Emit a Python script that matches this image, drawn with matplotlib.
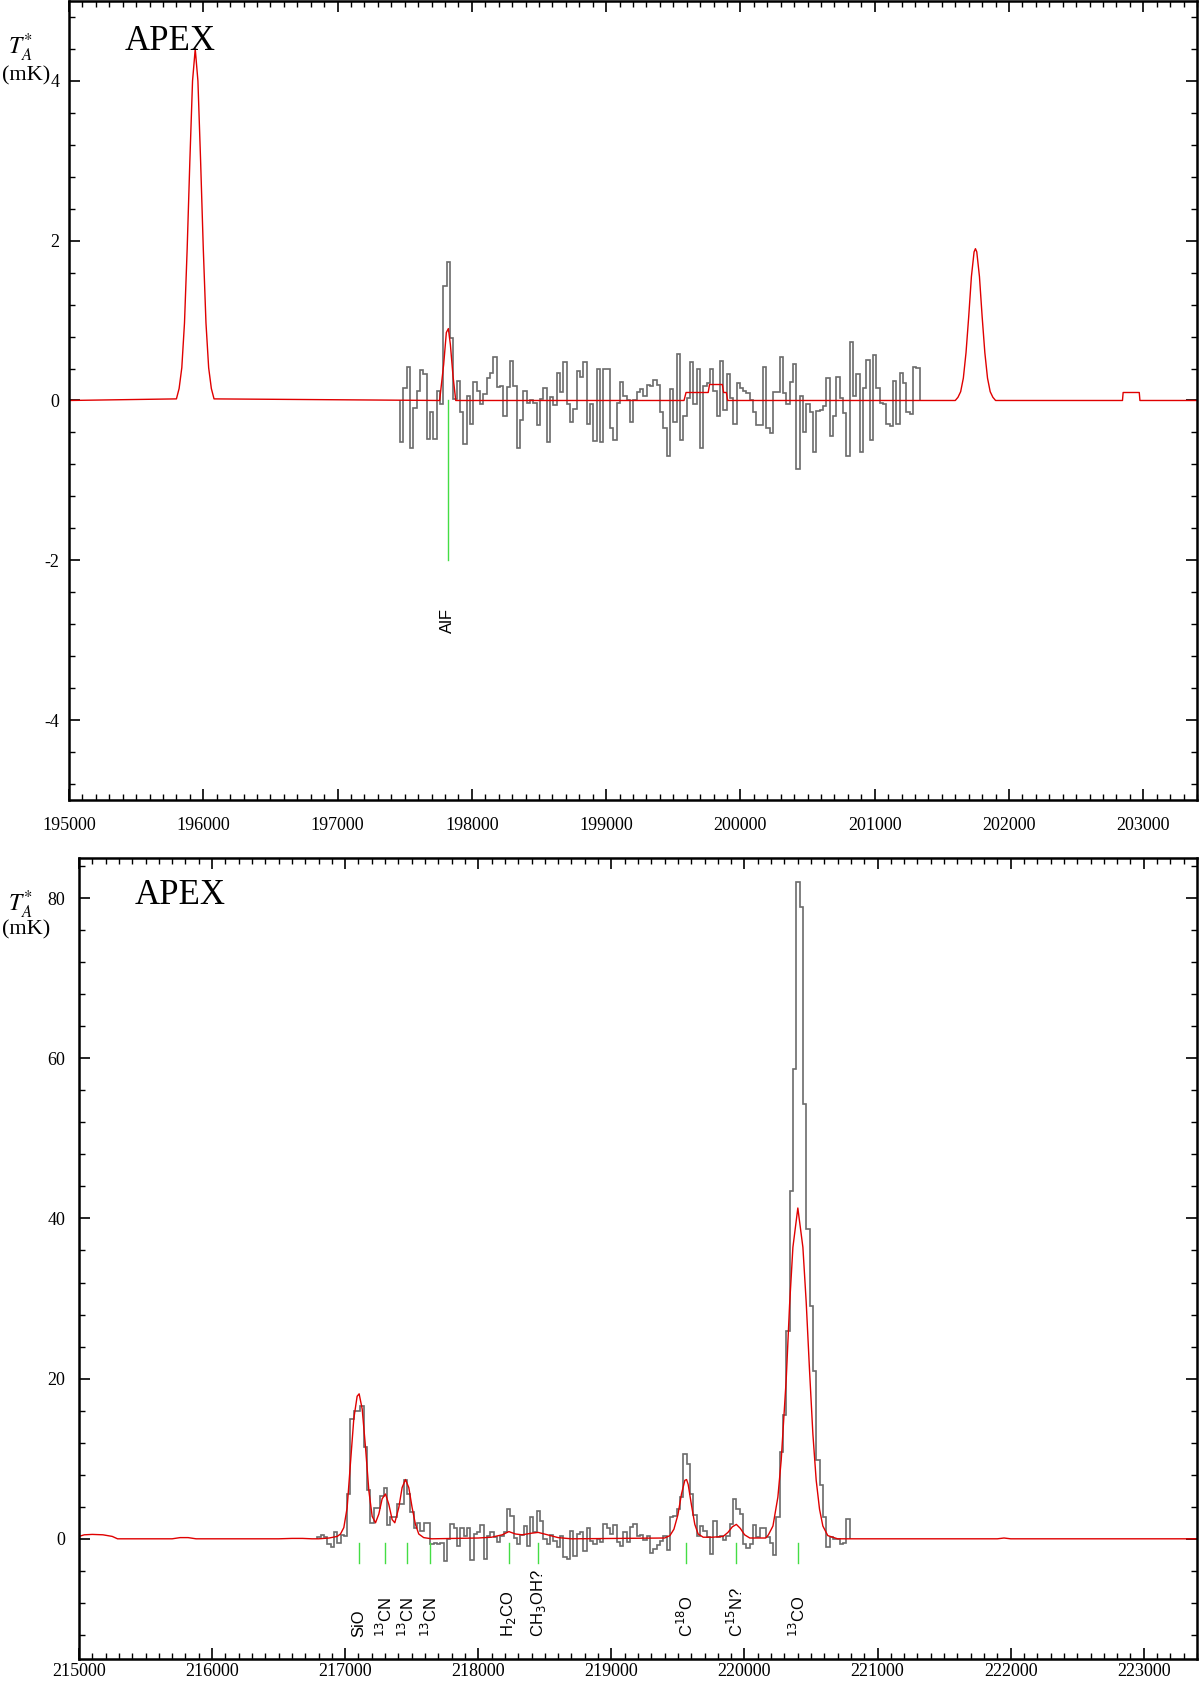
import matplotlib
matplotlib.use('Agg')
import matplotlib.pyplot as plt
import numpy as np
from matplotlib.ticker import MultipleLocator, FormatStrFormatter

plt.rcParams['font.family'] = ['Liberation Serif', 'DejaVu Serif']
plt.rcParams['axes.unicode_minus'] = False

# ---- top panel: observed channels (mK), first channel edge and width in MHz
top_start = 197466
top_width = 24.8
top_data = [-0.52, 0.16, 0.42, -0.59, -0.09, 0.12, 0.38, 0.33, -0.48, -0.15,
            -0.48, 0.12, -0.05, 1.43, 1.73, 0.78, 0.02, 0.24, -0.15, -0.54,
            0.06, -0.30, 0.23, 0.12, -0.04, 0.08, 0.28, 0.35, 0.55, 0.17,
            0.18, -0.20, 0.17, 0.49, 0.18, -0.59, -0.24, 0.12, -0.03, 0.0,
            -0.03, -0.31, 0.02, 0.16, -0.52, 0.04, -0.06, 0.35, 0.1, 0.48,
            -0.05, -0.27, -0.11, 0.37, 0.3, 0.48, -0.29, -0.04, -0.51, 0.4,
            -0.52, 0.39, 0.39, -0.34, -0.49, -0.03, 0.23, 0.05, 0.0, -0.27,
            0.0, 0.11, 0.14, 0.05, 0.2, 0.18, 0.26,
            0.2, -0.15, -0.35, -0.7, 0.14, -0.27, 0.58, -0.5, -0.2, 0.03,
            0.48, -0.04, 0.39, -0.6, 0.18, 0.22, 0.4, 0.12, -0.19, 0.5,
            -0.12, 0.33, 0.03, -0.3, 0.22, 0.15, 0.12, 0.09, 0.0, -0.15,
            -0.31, -0.31, 0.42, -0.35, -0.41, 0.11, 0.11, 0.55, 0.09, -0.05,
            0.23, 0.46, -0.86, 0.06, -0.4, -0.05, -0.15, -0.65, -0.13, -0.12,
            -0.07, 0.28, -0.45, -0.19, 0.29, 0.03, -0.16, -0.69, 0.73, 0.06,
            0.33, -0.64, 0.15, 0.51, -0.5, 0.57, 0.15, -0.03, -0.05, -0.3,
            -0.32, 0.24, -0.3, 0.35, 0.22, -0.15, -0.17, 0.42, 0.41]

# top panel model (red)
top_model_freq = [195000, 195800, 195820, 195840, 195860, 195880, 195900, 195920, 195940,
                  195960, 195980, 196000, 196020, 196040, 196060, 196080,
                  197760, 197790, 197810, 197825, 197840, 197860, 197880,
                  199580, 199595, 199760, 199770, 199865, 199875, 199895, 199905,
                  201600, 201620, 201640, 201660, 201680, 201700, 201720, 201740, 201750,
                  201760, 201780, 201800, 201820, 201840, 201860, 201880, 201900,
                  202845, 202850, 202970, 202975, 203400]
top_model_val = [0, 0.02, 0.15, 0.41, 0.97, 1.9, 3.0, 4.0, 4.4,
                 4.0, 3.0, 1.9, 0.97, 0.41, 0.15, 0.02,
                 0, 0.45, 0.85, 0.9, 0.7, 0.3, 0,
                 0, 0.1, 0.1, 0.2, 0.2, 0.1, 0.1, 0,
                 0, 0.04, 0.11, 0.28, 0.6, 1.05, 1.55, 1.86, 1.9,
                 1.86, 1.55, 1.05, 0.6, 0.28, 0.11, 0.04, 0,
                 0, 0.1, 0.1, 0, 0]

top_lines = [197820]
top_labels = ['AlF']

# ---- bottom panel
bot_start = 216790
bot_width = 25
bot_data = [0.2, 0.5, 0.2, -0.7, -1.0, 0.8, -0.5, 0.5, 0.3, 5.6,
            14.9, 16.0, 16.0, 16.6, 11.5, 6.1, 2.0, 3.8, 3.8, 5.4,
            6.4, 1.75, 2.75, 2.7, 4.4, 4.4, 7.3, 5.6, 3.3, 1.4,
            2.0, 1.0, 2.0, 2.0, -0.6, -0.5, -0.6, -0.5, -2.75, 0.0,
            1.9, 1.3, -0.9, 1.4, 0.4, 1.3, -2.7, 0.6, 0.8, 1.7,
            -2.5, 0.4, 0.9, 0.2, -0.4, 0.3, 0.8, 3.7, 2.8, 0.1,
            -0.7, 0.5, 1.6, -0.9, 2.7, 0.8, 3.5, 2.2, 0.0, -0.6,
            0.5, -0.3, -1.0, 0.4, -2.3, -2.5, 1.0, -2.2, 0.6, 0.8,
            -1.5, 1.4, -0.25, -0.7, 0.0, -0.4, 1.8, 1.4, 0.6, 1.75,
            -0.45, -0.9, 0.8, -0.4, 1.5, 1.9, 0.3, 0.5, -0.2, 0.4,
            -1.8, -1.3, -0.75, -0.3, 0.3, -1.4, 2.75, 2.9, 3.7, 5.2,
            10.6, 9.3, 5.6, 3.0, 0.4, 1.6, 1.0, 0.2, -1.9, 2.25,
            0.2, 0.4, -0.2, 0.3, 1.8, 5.0, 3.7, 3.1, -0.6, -1.1,
            -0.6, 1.75, 0.2, 1.4, 1.4, 0.2, -0.5, -2.0, 2.7, 10.8,
            15.4, 26.0, 43.4, 58.7, 82.0, 78.9, 54.3, 38.7, 29.1, 21.0,
            9.8, 6.7, 2.7, -1.0, 0.2, 0.0, 0.0, -0.6, -0.5, 2.5]

bot_model_freq = [215000, 215040, 215100, 215180, 215250, 215290, 215700, 215760, 215820, 215880,
                  216500, 216600, 216680, 216750, 216800, 216880, 216940, 216965, 216990, 217015,
                  217040, 217065, 217090, 217105, 217128, 217153, 217178, 217203, 217228, 217253,
                  217278, 217303, 217328, 217353, 217373, 217403, 217428, 217453, 217478, 217503,
                  217528, 217553, 217590, 217650, 218000, 218100, 218180, 218230, 218280, 218330,
                  218400, 218450, 218520, 218600, 218700, 219400, 219440, 219470, 219500, 219527,
                  219552, 219565, 219577, 219602, 219627, 219652, 219690, 219760, 219840, 219876,
                  219909, 219939, 219969, 220001, 220040, 220160, 220180, 220214, 220251, 220276,
                  220314, 220339, 220364, 220401, 220439, 220464, 220489, 220514, 220539, 220564,
                  220589, 220626, 220700, 221900, 221950, 222000, 223400]
bot_model_val = [0.3, 0.5, 0.55, 0.5, 0.3, 0.0, 0.0, 0.15, 0.15, 0.0,
                 0.0, 0.05, 0.05, 0.0, 0.0, 0.1, 0.3, 0.6, 1.4, 3.9,
                 9.5, 15.0, 17.8, 18.1, 16.2, 11.4, 6.0, 2.8, 2.0, 3.1,
                 5.0, 5.6, 4.3, 2.4, 2.0, 3.9, 6.4, 7.4, 6.4, 3.9,
                 1.8, 0.6, 0.15, 0.0, 0.1, 0.2, 0.5, 0.9, 0.6, 0.5,
                 0.7, 0.8, 0.5, 0.15, 0.0, 0.1, 0.4, 1.2, 3.0, 5.6,
                 7.3, 7.4, 6.8, 4.2, 1.8, 0.6, 0.2, 0.2, 0.3, 0.8,
                 1.5, 1.8, 1.3, 0.5, 0.1, 0.1, 0.5, 1.6, 5.2, 9.8,
                 20.0, 29.2, 36.4, 41.3, 36.4, 29.5, 21.0, 13.1, 7.3, 3.7,
                 1.6, 0.4, 0.0, 0.0, 0.1, 0.0, 0.0]

bot_lines = [217105, 217300, 217465, 217640, 218230, 218450, 219560, 219935, 220400]
bot_labels = ['SiO', r'$^{13}$CN', r'$^{13}$CN', r'$^{13}$CN', r'H$_2$CO', r'CH$_3$OH?',
              r'C$^{18}$O', r'C$^{15}$N?', r'$^{13}$CO']

gray = '#6b6b6b'
red = '#e00000'
green = '#44dd44'

fig = plt.figure(figsize=(12, 16.82), dpi=100)
ax1 = fig.add_axes([0.0575, 0.5244, 0.94, 0.475])
ax2 = fig.add_axes([0.0658, 0.0137, 0.9317, 0.4762])


def style(ax, xlim, ylim, ymaj, ymin, xpad, ypad):
    ax.set_xlim(*xlim)
    ax.set_ylim(*ylim)
    ax.xaxis.set_major_locator(MultipleLocator(1000))
    ax.xaxis.set_minor_locator(MultipleLocator(100))
    ax.yaxis.set_major_locator(MultipleLocator(ymaj))
    ax.yaxis.set_minor_locator(MultipleLocator(ymin))
    ax.xaxis.set_major_formatter(FormatStrFormatter('%d'))
    ax.tick_params(which='both', direction='in', top=True, right=True)
    ax.tick_params(which='major', length=8, width=1.2)
    ax.tick_params(which='minor', length=4, width=1)
    ax.tick_params(axis='x', pad=xpad, labelsize=13)
    ax.tick_params(axis='y', pad=ypad, labelsize=13)
    for s in ax.spines.values():
        s.set_linewidth(1.8)


# top panel
edges = top_start + top_width * np.arange(len(top_data) + 1)
ax1.stairs(top_data, edges, baseline=0, color=gray, lw=1.2)
ax1.plot(top_model_freq, top_model_val, color=red, lw=1)
for f, lab in zip(top_lines, top_labels):
    ax1.plot([f, f], [0, -2], color=green, lw=1)
    ax1.text(f, -2.75, lab, rotation=90, ha='center', va='center', fontsize=12,
             family=['Liberation Sans', 'DejaVu Sans'])
style(ax1, (195000, 203400), (-5, 5), 2, 0.4, 12, 7)

# bottom panel
edges = bot_start + bot_width * np.arange(len(bot_data) + 1)
ax2.stairs(bot_data, edges, baseline=0, color=gray, lw=1.2)
ax2.plot(bot_model_freq, bot_model_val, color=red, lw=1)
for f, lab in zip(bot_lines, bot_labels):
    ax2.plot([f, f], [-0.5, -3], color=green, lw=1)
    ax2.text(f, -12.2, lab, rotation=90, ha='center', va='bottom', fontsize=12,
             family=['Liberation Sans', 'DejaVu Sans'], math_fontfamily='dejavusans')
style(ax2, (215000, 223400), (-15, 85), 20, 4, 3, 10)

# labels
for yc_t, yc_m, yc_a, xa in [(48, 76, 42, 170), (905, 930, 896, 180)]:
    fig.text(20 / 1200, 1 - yc_t / 1682, r'$T_A^{*}$', math_fontfamily='stix',
             fontsize=17, ha='center', va='center')
    fig.text(26 / 1200, 1 - yc_m / 1682, '(mK)', fontsize=16, ha='center', va='center')
    fig.text(xa / 1200, 1 - yc_a / 1682, 'APEX', fontsize=25, ha='center', va='center')

fig.savefig('out.png', dpi=100)
